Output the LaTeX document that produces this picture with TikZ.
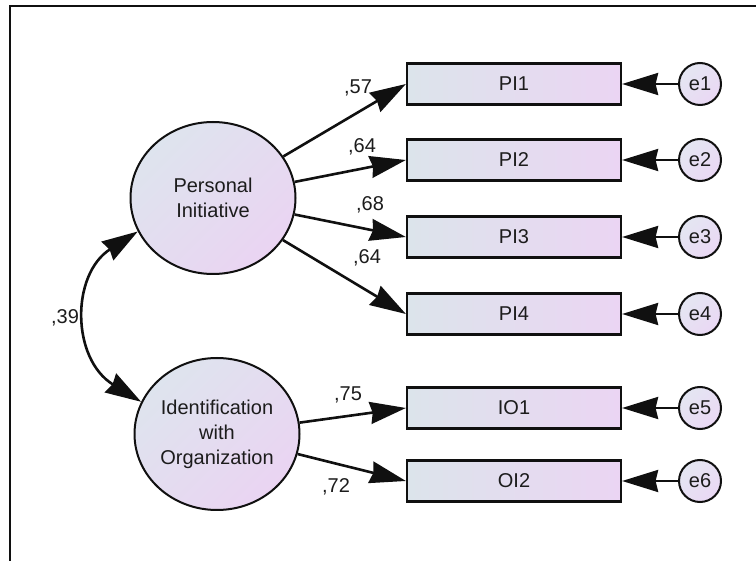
\documentclass[tikz,border=0pt]{standalone}
\usepackage{fontspec}
\setmainfont{Liberation Sans}
\usetikzlibrary{arrows.meta,shapes.geometric}

\definecolor{inkc}{HTML}{101010}
\definecolor{txtc}{HTML}{1C1C1C}
\definecolor{boxl}{HTML}{DCE4EB}
\definecolor{boxr}{HTML}{EBD5F3}
\definecolor{latA}{HTML}{DEE4EE}
\definecolor{latB}{HTML}{EAD4F2}
\definecolor{errA}{HTML}{E4E6F2}
\definecolor{errB}{HTML}{EAD8F4}

\begin{document}
\begin{tikzpicture}[x=1pt,y=-1pt,
  >={Stealth[length=36pt,width=22pt,inset=2.5pt]},
  every node/.style={font=\fontsize{20}{25}\selectfont, text=txtc},
  obsbox/.style={rectangle, draw=inkc, line width=2.2pt, minimum width=214pt,
    minimum height=41pt, inner sep=0pt, left color=boxl, right color=boxr},
  latent/.style={ellipse, draw=inkc, line width=2pt, minimum width=165pt,
    minimum height=152pt, inner sep=0pt, align=center,
    top color=latA, bottom color=latB, shading angle=45},
  errnode/.style={circle, draw=inkc, line width=2pt, minimum size=42pt,
    inner sep=0pt, top color=errA, bottom color=errB, shading angle=45},
  regpath/.style={->, line width=2.6pt, draw=inkc},
  covpath/.style={<->, line width=2.6pt, draw=inkc},
  wlabel/.style={inner sep=0pt}
]
\useasboundingbox (0,0) rectangle (756,561);

% frame
\draw[line width=2pt, inkc] (10,561) -- (10,6) -- (756,6);

% latent variables
\node[latent] (PI) at (213,198) {Personal\\Initiative};
\node[latent] (IO) at (217,434) {Identification\\with\\Organization};

% indicators
\node[obsbox] (PI1) at (514,84)  {PI1};
\node[obsbox] (PI2) at (514,160) {PI2};
\node[obsbox] (PI3) at (514,237) {PI3};
\node[obsbox] (PI4) at (514,314) {PI4};
\node[obsbox] (IO1) at (514,408) {IO1};
\node[obsbox] (OI2) at (514,481) {OI2};

% error terms
\node[errnode] (e1) at (700,84)  {e1};
\node[errnode] (e2) at (700,160) {e2};
\node[errnode] (e3) at (700,237) {e3};
\node[errnode] (e4) at (700,314) {e4};
\node[errnode] (e5) at (700,408) {e5};
\node[errnode] (e6) at (700,481) {e6};

% loadings
\draw[regpath] (PI) -- (PI1.west);
\draw[regpath] (PI) -- (PI2.west);
\draw[regpath] (PI) -- (PI3.west);
\draw[regpath] (PI) -- (PI4.west);
\draw[regpath] (IO) -- (IO1.west);
\draw[regpath] (IO) -- (OI2.west);

% error paths
\foreach \e/\v in {e1/PI1,e2/PI2,e3/PI3,e4/PI4,e5/IO1,e6/OI2}
  \draw[regpath] (\e) -- (\v.east);

% covariance
\draw[covpath] (PI.204) .. controls +(-67,43) and +(-70,-43) .. (IO.157);

% weights
\node[wlabel] (w1) at (358,88)  {,57};
\node[wlabel] (w2) at (362,147) {,64};
\node[wlabel] (w3) at (370,205) {,68};
\node[wlabel] (w4) at (367,258) {,64};
\node[wlabel] (w5) at (348,395) {,75};
\node[wlabel] (w6) at (336,487) {,72};
\node[wlabel] (wc) at (65,318)  {,39};
\end{tikzpicture}
\end{document}
